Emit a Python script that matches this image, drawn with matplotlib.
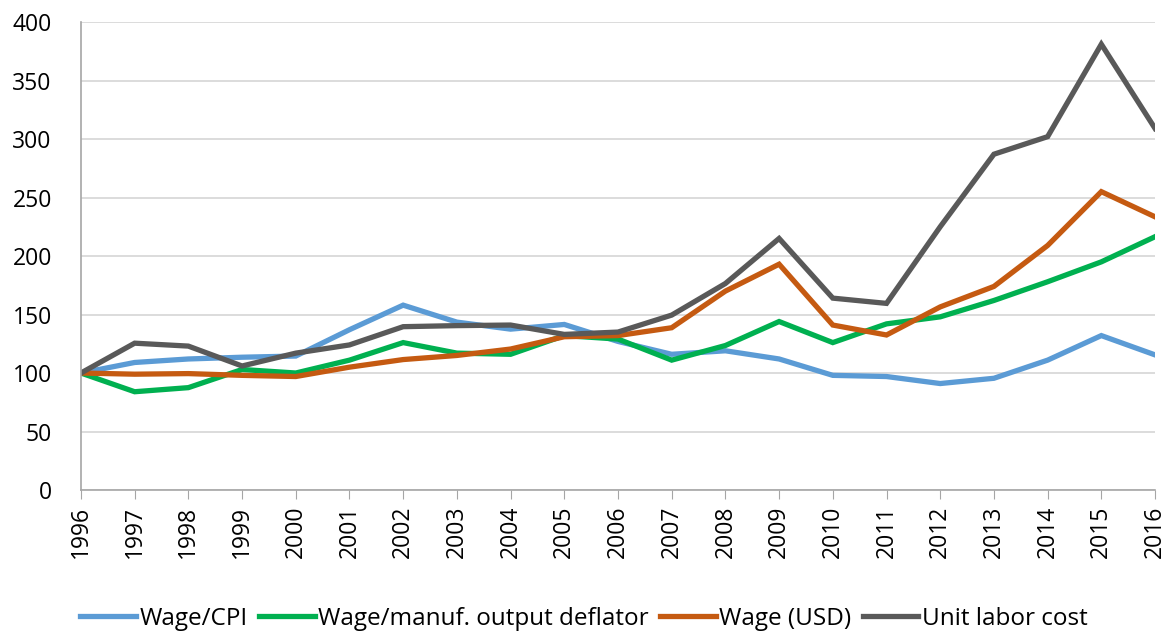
import matplotlib
matplotlib.use("Agg")
import matplotlib.pyplot as plt

years = list(range(1996, 2017))
wage_cpi = [100, 109, 112, 113.5, 114.5, 137, 158, 143.5, 137.5, 141.5, 127,
            116, 119, 112, 98, 97, 91, 95.5, 111, 132, 115.5]
wage_deflator = [100, 84, 87.5, 103, 100, 111, 126, 117, 116, 132, 129,
                 111, 123.5, 144, 126, 142, 148, 162, 178, 195, 216.5]
wage_usd = [100, 99, 99.5, 98, 97, 105, 111.5, 115, 120.5, 131, 132,
            138.7, 170, 193, 141, 132.5, 156.5, 174, 209, 255, 233.5]
unit_labor = [100, 125.5, 123, 106, 117, 124, 139.6, 140.5, 141, 133, 135,
              149.5, 176.5, 215, 164, 159.5, 225, 287, 302, 381, 309]

labels = ["Wage/CPI", "Wage/manuf. output deflator", "Wage (USD)", "Unit labor cost"]
colors = ["#5b9bd5", "#00b050", "#c55a11", "#595959"]

plt.rcParams["font.family"] = ["Open Sans", "DejaVu Sans"]

fig = plt.figure(figsize=(11.68, 6.34), dpi=100)
ax = fig.add_axes([0.0693, 0.2271, 0.9196, 0.7382])

for vals, lab, c in zip([wage_cpi, wage_deflator, wage_usd, unit_labor], labels, colors):
    ax.plot(years, vals, color=c, lw=3.8, label=lab, solid_joinstyle="miter")

ax.set_xlim(1996, 2016)
ax.set_ylim(0, 400)
ax.set_yticks(range(0, 401, 50))
ax.set_xticks(years)
ax.set_xticklabels([str(y) for y in years], rotation=90)
ax.tick_params(axis="both", labelsize=16.5, colors="black")
ax.tick_params(axis="y", length=0, pad=21)
ax.tick_params(axis="x", length=6.5, color="#a6a6a6", pad=5)
ax.grid(axis="y", color="#d9d9d9", lw=1.3)
ax.set_axisbelow(True)
for s in ["top", "right"]:
    ax.spines[s].set_visible(False)
for s in ["left", "bottom"]:
    ax.spines[s].set_color("#a6a6a6")
    ax.spines[s].set_linewidth(1.2)

fig.legend(loc="center", bbox_to_anchor=(0.5, 0.024), ncol=4, frameon=False,
           fontsize=17.5, handlelength=2.3, handletextpad=0.15, columnspacing=0.45)

fig.savefig("out.png", dpi=100)
plt.close(fig)
